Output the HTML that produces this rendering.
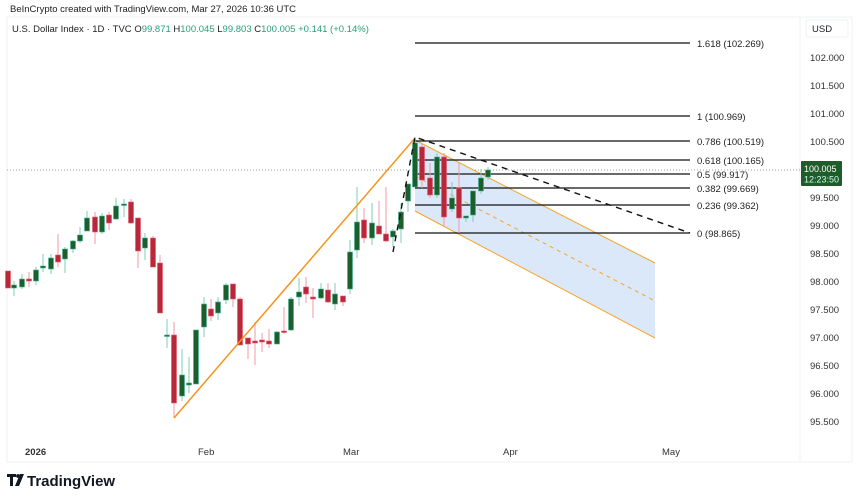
<!DOCTYPE html>
<html><head><meta charset="utf-8"><style>
html,body{margin:0;padding:0;background:#fff;width:858px;height:500px;overflow:hidden;font-family:"Liberation Sans",Arial,sans-serif}
</style></head><body>
<svg id="s" width="858" height="500" xmlns="http://www.w3.org/2000/svg" font-family="Liberation Sans, Arial, sans-serif">
<rect x="7" y="17" width="845" height="445" fill="none" stroke="#eef0f3"/>
<line x1="800" y1="17" x2="800" y2="462" stroke="#f0f2f5"/>
<text x="10" y="12" font-size="9.5" fill="#222">BeInCrypto created with TradingView.com, Mar 27, 2026 10:36 UTC</text>
<text x="12" y="32" font-size="9.5" fill="#222">U.S. Dollar Index · 1D · TVC  <tspan>O</tspan><tspan fill="#26a17b">99.871</tspan> H<tspan fill="#26a17b">100.045</tspan> L<tspan fill="#26a17b">99.803</tspan> C<tspan fill="#26a17b">100.005</tspan><tspan fill="#26a17b"> +0.141 (+0.14%)</tspan></text>
<rect x="806" y="20" width="42" height="17" fill="#fff" stroke="#eef0f3" rx="2"/>
<text x="812" y="32" font-size="9.5" fill="#222">USD</text>
<g font-size="9.5" fill="#333">
<text x="810" y="61">102.000</text><text x="810" y="89">101.500</text><text x="810" y="117">101.000</text><text x="810" y="145">100.500</text><text x="810" y="201">99.500</text><text x="810" y="229">99.000</text><text x="810" y="257">98.500</text><text x="810" y="285">98.000</text><text x="810" y="313">97.500</text><text x="810" y="341">97.000</text><text x="810" y="369">96.500</text><text x="810" y="397">96.000</text><text x="810" y="425">95.500</text>
</g>
<g font-size="9.5" fill="#333">
<text x="25" y="455" font-weight="bold">2026</text><text x="198" y="455">Feb</text><text x="343" y="455">Mar</text><text x="503" y="455">Apr</text><text x="662" y="455">May</text>
</g>
<line x1="7" y1="170" x2="800" y2="170" stroke="#9aa0a6" stroke-dasharray="1,2"/>
<polygon points="415,140 655,263 655,338 415,211" fill="#dbe8fa"/>
<line x1="415" y1="140" x2="655" y2="263" stroke="#f5a623" stroke-width="1"/>
<line x1="415" y1="211" x2="655" y2="338" stroke="#f5a623" stroke-width="1"/>
<line x1="415" y1="176" x2="655" y2="301" stroke="#f5a623" stroke-width="1" stroke-dasharray="4,4"/>
<g stroke="#111" stroke-width="1.3">
<line x1="415" y1="43" x2="690" y2="43"/><line x1="415" y1="116" x2="690" y2="116"/><line x1="415" y1="141" x2="690" y2="141"/><line x1="415" y1="160" x2="690" y2="160"/><line x1="415" y1="174" x2="690" y2="174"/><line x1="415" y1="188" x2="690" y2="188"/><line x1="415" y1="205" x2="690" y2="205"/><line x1="415" y1="233" x2="690" y2="233"/>
</g>
<g font-size="9.5" fill="#222">
<text x="697" y="47">1.618 (102.269)</text><text x="697" y="120">1 (100.969)</text><text x="697" y="145">0.786 (100.519)</text><text x="697" y="164">0.618 (100.165)</text><text x="697" y="178">0.5 (99.917)</text><text x="697" y="192">0.382 (99.669)</text><text x="697" y="209">0.236 (99.362)</text><text x="697" y="237">0 (98.865)</text>
</g>
<g id="c"></g>
<line x1="174" y1="418" x2="415" y2="138" stroke="#f7931a" stroke-width="1.5"/>
<polyline points="393,252 415,137 690,233" fill="none" stroke="#111" stroke-width="1.4" stroke-dasharray="6,5"/>
<rect x="801" y="161" width="41" height="25" fill="#1e5c2a" rx="1"/>
<text x="804" y="172" font-size="9" fill="#fff">100.005</text>
<text x="804" y="182.5" font-size="9" fill="#cfe">12:23:50</text>
<g transform="translate(7,472)"><path d="M0 2h9v3h-3v9h-3v-9h-3z M8 14l5-12h4l-5 12z" fill="#131722"/><circle cx="11" cy="4" r="1.9" fill="#131722"/></g>
<text x="27" y="486" font-size="15" font-weight="bold" fill="#131722">TradingView</text>
</svg>
<script>
var d=[[8,'r',271,288,271,288],[14,'g',285,288,281,296],[22,'g',279,287,274,289],[29,'r',279,281,272,287],[36,'g',270,281,267,285],[43,'g',266,268,254,272],[51,'g',258,269,254,274],[58,'r',255,262,234,267],[65,'g',249,259,247,273],[73,'g',241,249,240,253],[80,'g',235,241,227,243],[87,'g',218,231,211,231],[95,'r',217,232,212,244],[102,'g',216,232,213,234],[109,'r',215,223,212,230],[116,'g',206,219,198,220],[124,'g',204,205,199,217],[131,'r',202,223,199,224],[138,'r',218,251,218,268],[145,'g',238,248,233,260],[153,'r',238,267,236,267],[160,'r',263,313,255,313],[167,'g',335,336,319,348],[174,'r',335,403,322,418],[182,'g',375,396,349,401],[189,'g',383,385,357,393],[196,'g',330,384,330,384],[204,'g',304,327,297,337],[211,'r',309,316,299,321],[218,'g',302,313,297,320],[226,'g',285,300,283,304],[233,'r',284,299,284,307],[240,'r',299,345,297,345],[248,'r',338,344,338,359],[255,'r',341,343,322,365],
[262,'r',340,342,333,352],[269,'r',341,344,329,348],[277,'g',332,344,331,344],[284,'r',331,332,307,334],[291,'g',299,330,297,331],[299,'g',292,297,278,306],[306,'r',287,294,277,303],[313,'r',297,299,288,318],[321,'g',289,298,283,299],[328,'r',290,302,283,303],[335,'g',294,304,283,310],[343,'r',296,302,296,306],[350,'g',252,289,240,294],[357,'g',222,250,187,258],[364,'r',220,238,208,243],[372,'g',223,238,203,245],[379,'r',226,234,201,234],[386,'r',234,241,187,242],[393,'g',231,237,229,247],[401,'g',212,229,203,243],[408,'g',184,201,184,212],[415,'g',143,187,137,187],[422,'r',147,180,143,188],[430,'r',178,195,163,198],[437,'g',157,195,153,198],[444,'r',157,217,153,227],[452,'g',198,209,182,212],[459,'r',188,218,162,233],[466,'g',216,218,216,222],[473,'g',191,215,191,222],[481,'g',178,191,169,194],[488,'g',170,177,167,180]];
var h='';d.forEach(function(c){var g=c[1]=='g';var wc=g?'#7fcdb7':'#f29aa5',fc=g?'#1d5e2b':'#b8283a',sc=g?'#3fb596':'#e35d6e';
h+='<line x1="'+c[0]+'" y1="'+c[4]+'" x2="'+c[0]+'" y2="'+c[5]+'" stroke="'+wc+'" stroke-width="1"/>';
var y=c[2],hh=Math.max(c[3]-c[2],1.5);h+='<rect x="'+(c[0]-2.5)+'" y="'+y+'" width="5" height="'+hh+'" fill="'+fc+'" stroke="'+sc+'" stroke-width="0.6"/>';});
document.getElementById('c').innerHTML=h;
</script>
</body></html>
